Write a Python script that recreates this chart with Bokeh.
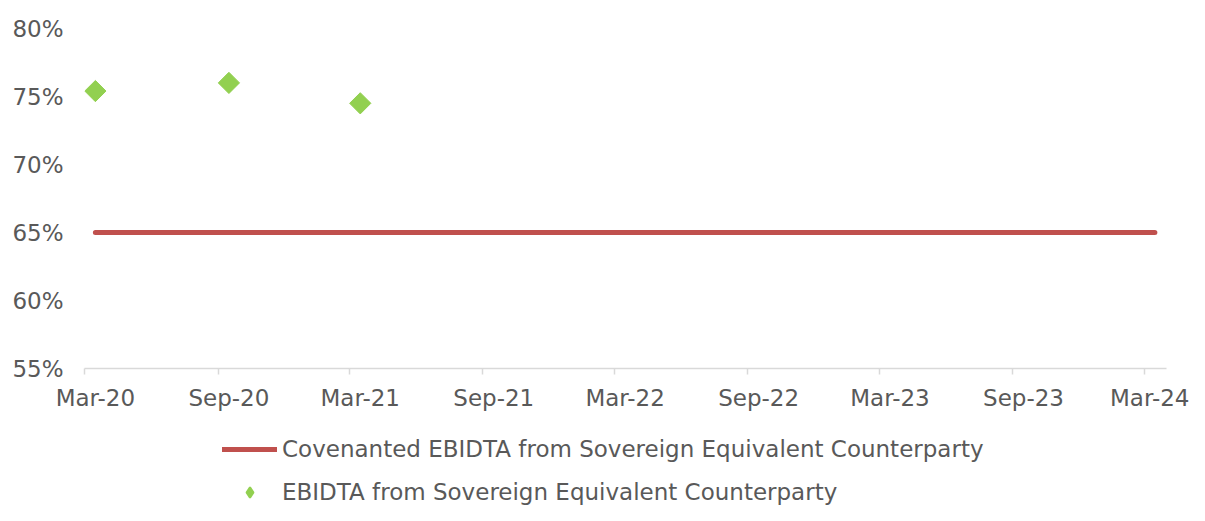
import numpy as np
from datetime import datetime
from bokeh.plotting import figure
from bokeh.layouts import column
from bokeh.models import (Range1d, DatetimeAxis, FixedTicker, DatetimeTickFormatter,
                          NumeralTickFormatter, Legend, LegendItem, ColumnDataSource)
from bokeh.embed import file_html
from bokeh.resources import INLINE

# ---- data ----
covenant_dates = ["2020-03-16", "2020-09-16", "2021-03-16", "2021-09-16", "2022-03-16",
                  "2022-09-16", "2023-03-16", "2023-09-16", "2024-03-15"]
covenant_values = [0.65, 0.65, 0.65, 0.65, 0.65, 0.65, 0.65, 0.65, 0.65]
ebitda_dates = ["2020-03-16", "2020-09-16", "2021-03-16"]
ebitda_values = [0.754, 0.760, 0.745]
tick_months = ["2020-03-01", "2020-09-01", "2021-03-01", "2021-09-01", "2022-03-01",
               "2022-09-01", "2023-03-01", "2023-09-01", "2024-03-01"]
label_positions = ["2020-03-16", "2020-09-16", "2021-03-16", "2021-09-16", "2022-03-16",
                   "2022-09-16", "2023-03-16", "2023-09-16", "2024-03-16"]
y_ticks = [0.55, 0.60, 0.65, 0.70, 0.75, 0.80]
covenant_name = "Covenanted EBIDTA from Sovereign Equivalent Counterparty"
ebitda_name = "EBIDTA from Sovereign Equivalent Counterparty"

def to_dt(s):
    return datetime.strptime(s, "%Y-%m-%d")

def to_ms(s):
    return (to_dt(s) - datetime(1970, 1, 1)).total_seconds() * 1000.0

FONT = "DejaVu Sans"
TXT = "#595959"
FS = "23px"
RED = "#C0504D"
GREEN = "#92D050"

p = figure(width=1189, height=425, output_backend="svg", toolbar_location=None,
           x_axis_type=None, y_range=Range1d(0.55, 0.80),
           x_range=Range1d(to_dt("2020-03-01"), to_dt("2024-03-31")),
           min_border_left=84, min_border_right=23, min_border_top=28, min_border_bottom=57)
p.outline_line_color = None
p.xgrid.grid_line_color = None
p.ygrid.grid_line_color = None
p.background_fill_color = "white"
p.border_fill_color = "white"

# y axis
ya = p.yaxis[0]
ya.ticker = FixedTicker(ticks=y_ticks)
ya.formatter = NumeralTickFormatter(format="0%")
ya.axis_line_color = None
ya.major_tick_line_color = None
ya.minor_tick_line_color = None
ya.major_label_standoff = 15
ya.major_label_text_font = FONT
ya.major_label_text_font_size = FS
ya.major_label_text_color = TXT

fmt = DatetimeTickFormatter(months="%b-%y", days="%b-%y", years="%b-%y", hours="%b-%y")

# tick-mark axis
ax1 = DatetimeAxis(ticker=FixedTicker(ticks=[to_ms(d) for d in tick_months]), formatter=fmt)
ax1.axis_line_color = "#d9d9d9"
ax1.axis_line_width = 1.5
ax1.major_tick_line_color = "#d9d9d9"
ax1.major_tick_line_width = 1.5
ax1.major_tick_out = 6
ax1.major_tick_in = 0
ax1.minor_tick_line_color = None
ax1.major_label_text_font_size = "1px"
ax1.major_label_text_alpha = 0
ax1.major_label_standoff = 0
p.add_layout(ax1, "below")

# label axis (labels centred mid-month, like the source)
ax2 = DatetimeAxis(ticker=FixedTicker(ticks=[to_ms(d) for d in label_positions]), formatter=fmt)
ax2.axis_line_color = None
ax2.major_tick_line_color = None
ax2.minor_tick_line_color = None
ax2.major_label_standoff = 4
ax2.major_label_text_font = FONT
ax2.major_label_text_font_size = FS
ax2.major_label_text_color = TXT
p.add_layout(ax2, "below")

cov_src = ColumnDataSource(dict(x=[to_dt(d) for d in covenant_dates], y=covenant_values))
ebi_src = ColumnDataSource(dict(x=[to_dt(d) for d in ebitda_dates], y=ebitda_values))

p.line("x", "y", source=cov_src, line_color=RED, line_width=5, line_cap="round")
p.scatter("x", "y", source=ebi_src, marker="square", size=15, angle=np.pi / 4,
          fill_color=GREEN, line_color=GREEN)

# legend strip below the chart (proxy glyphs lie outside the visible range)
lg = figure(width=1189, height=80, output_backend="svg", toolbar_location=None,
            x_axis_type=None, y_axis_type=None, x_range=Range1d(0, 1), y_range=Range1d(0, 1),
            min_border_left=0, min_border_right=0, min_border_top=0, min_border_bottom=0)
lg.outline_line_color = None
lg.xgrid.grid_line_color = None
lg.ygrid.grid_line_color = None
lg.border_fill_color = "white"
l_line = lg.line(x=[5, 6], y=[5, 5], line_color=RED, line_width=5, line_cap="round")
l_pts = lg.scatter(x=[5], y=[5], marker="diamond", size=15,
                   fill_color=GREEN, line_color=GREEN, line_width=2)
legend = Legend(items=[LegendItem(label=covenant_name, renderers=[l_line]),
                       LegendItem(label=ebitda_name, renderers=[l_pts])],
                location=(138, 0), orientation="vertical",
                glyph_width=55, glyph_height=26, label_height=26, label_standoff=5,
                spacing=17, padding=0, margin=0,
                border_line_color=None, background_fill_alpha=0,
                label_text_font=FONT, label_text_font_size=FS, label_text_color=TXT)
lg.add_layout(legend, "center")

layout = column(p, lg, spacing=0)
open("out.html", "w").write(file_html(layout, INLINE))
